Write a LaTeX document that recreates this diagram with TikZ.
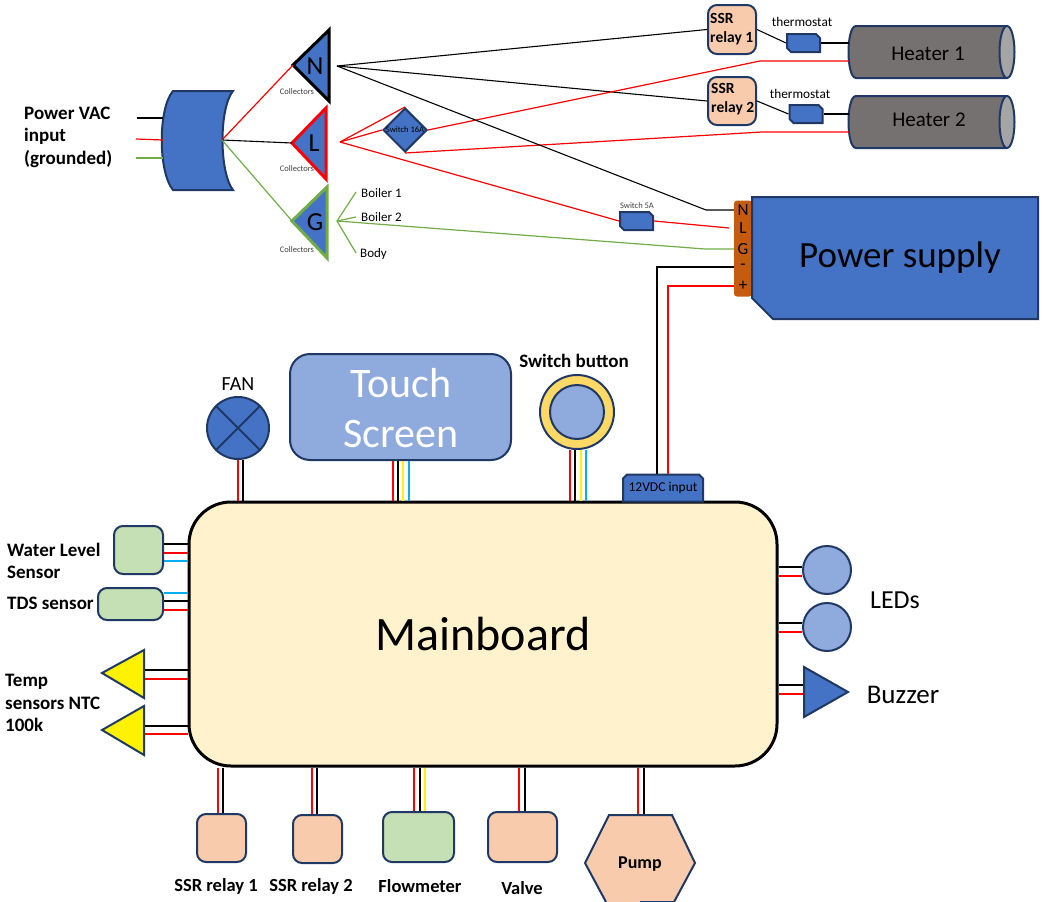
\documentclass[tikz,border=0pt]{standalone}
\usepackage{fontspec}
\setmainfont{Carlito}
\usetikzlibrary{shapes.geometric,shapes.misc}
\definecolor{navy}{HTML}{1F3864}
\definecolor{partblue}{HTML}{4472C4}
\definecolor{lightblue}{HTML}{8FAADC}
\definecolor{peach}{HTML}{F8CBAD}
\definecolor{mint}{HTML}{C5E0B4}
\definecolor{cream}{HTML}{FFF2CC}
\definecolor{gnd}{HTML}{70AD47}
\definecolor{sky}{HTML}{00B0F0}
\definecolor{ringgold}{HTML}{FFD966}
\definecolor{rust}{HTML}{C55A11}
\definecolor{heatgrey}{HTML}{767171}
\definecolor{endgrey}{HTML}{A5A5A5}
\newcommand{\fsz}[1]{\fontsize{#1}{#1}\selectfont}
\tikzset{
  blkw/.style={line width=1.1pt,black},
  redw/.style={line width=1.2pt,red},
  grnw/.style={line width=1.2pt,gnd},
  yelw/.style={line width=1.3pt,yellow},
  cynw/.style={line width=1.3pt,sky},
  part/.style={draw=navy,line width=2pt,inner sep=0pt},
  roundbox/.style={part,rectangle,rounded corners=9pt,minimum width=#1},
  snipbox/.style={part,fill=partblue,chamfered rectangle,chamfered rectangle xsep=2pt,chamfered rectangle ysep=2pt},
  bold/.style={font=\fontsize{19}{22.5}\selectfont\bfseries,align=left,inner sep=0pt},
  tiny/.style={font=\fsz{8.5},inner sep=0pt,text=black!75},
  small/.style={font=\fsz{13.3},inner sep=0pt},
}
\begin{document}
\begin{tikzpicture}[x=1pt,y=-1pt]
\useasboundingbox (0,0) rectangle (1047,902);

% power input
\node[bold,anchor=west] (powerlbl) at (24,137) {Power VAC\\input\\(grounded)};
\filldraw[part,fill=partblue] (173,91)--(233,91) .. controls (219,108) and (219,172) .. (233,190)--(173,190) .. controls (158,172) and (158,108) .. (173,91)--cycle;
\coordinate (plugout) at (222,140);
\coordinate (plugin) at (163,140);
\draw[blkw] (137,118)--(163,118);
\draw[redw] (136,139)--(plugin);
\draw[grnw] (136,158)--(163,158);

% collectors
\filldraw[fill=partblue,draw=black,line width=3pt] (293,65)--(329,30)--(329,101)--cycle;
\filldraw[fill=partblue,draw=red,line width=3pt] (292,143)--(326,108)--(326,179)--cycle;
\filldraw[fill=partblue,draw=gnd,line width=3pt] (292,221)--(327,187)--(327,258)--cycle;
\node[font=\fsz{26},inner sep=0pt] (ntxt) at (315,66) {N};
\node[font=\fsz{26},inner sep=0pt] (ltxt) at (314,143) {L};
\node[font=\fsz{26},inner sep=0pt] (gtxt) at (315,222) {G};
\node[tiny] (coln) at (297,92) {Collectors};
\node[tiny] (coll) at (297,169) {Collectors};
\node[tiny] (colg) at (297,250) {Collectors};
\coordinate (nin) at (293,65);
\coordinate (lin) at (292,143);
\coordinate (gin) at (292,221);
\coordinate (nout) at (337,66);
\coordinate (lout) at (340,142);
\coordinate (gout) at (337,221);
\draw[redw] (plugout)--(nin);
\draw[blkw] (plugout)--(lin);
\draw[grnw] (plugout)--(gin);

% boiler earth points
\node[small,font=\fsz{13},anchor=west] (boil1) at (361,193) {Boiler 1};
\node[small,font=\fsz{13},anchor=west] (boil2) at (361,217) {Boiler 2};
\node[small,font=\fsz{13},anchor=west] (bodytxt) at (360,254) {Body};
\coordinate (boil1w) at (356,192);
\coordinate (boil2w) at (356,217);
\coordinate (bodyw) at (356,253);
\draw[grnw] (gout)--(boil1w);
\draw[grnw] (gout)--(boil2w);
\draw[grnw] (gout)--(bodyw);

% relays, thermostats, heaters
\node[roundbox=48pt,fill=peach,minimum height=49pt] (relay1) at (732,29.5) {};
\node[roundbox=48pt,fill=peach,minimum height=48pt] (relay2) at (732,101) {};
\node[bold,font=\fontsize{15.5}{19}\selectfont\bfseries,anchor=west] (relay1txt) at (710,29) {SSR\\relay 1};
\node[bold,font=\fontsize{15.5}{19}\selectfont\bfseries,anchor=west] (relay2txt) at (711,99) {SSR\\relay 2};
\node[snipbox,chamfered rectangle corners={north east,south west}] (thermo1) at (803.5,43) {\rule{29pt}{0pt}\rule{0pt}{14pt}};
\node[snipbox,chamfered rectangle corners={north east,south west}] (thermo2) at (806,114) {\rule{29pt}{0pt}\rule{0pt}{14pt}};
\node[small] (thermo1txt) at (802,22) {thermostat};
\node[small] (thermo2txt) at (800,94) {thermostat};
\filldraw[part,fill=heatgrey] (1007,26)--(856,26) .. controls (846,26) and (846,78) .. (856,78)--(1007,78);
\filldraw[part,fill=heatgrey] (1007,96)--(856,96) .. controls (846,96) and (846,148) .. (856,148)--(1007,148);
\filldraw[part,fill=endgrey] (1007,52) ellipse (7.5 and 26);
\filldraw[part,fill=endgrey] (1007,122) ellipse (7.5 and 26);
\node[font=\fsz{21},inner sep=0pt] (heater1) at (928,54) {Heater 1};
\node[font=\fsz{21},inner sep=0pt] (heater2) at (929,120) {Heater 2};
\coordinate (heat1in) at (849,52);
\coordinate (heat2in) at (849,122);
\draw[blkw] (nout)--(relay1.west);
\draw[blkw] (nout)--(relay2.west);
\draw[blkw] (relay1.east)--(thermo1.west);
\draw[blkw] (relay2.east)--(thermo2.west);
\draw[blkw] (thermo1.east)--(thermo1.east -| heat1in);
\draw[blkw] (thermo2.east)--(thermo2.east -| heat2in);

% line side switches
\node[part,fill=partblue,diamond,aspect=1,minimum size=44pt] (sw16) at (405,130) {};
\node[tiny,text=black] (sw16txt) at (405,130) {Switch 16A};
\node[snipbox,chamfered rectangle corners={north east,south west}] (sw5) at (636.5,221) {\rule{29pt}{0pt}\rule{0pt}{14pt}};
\node[tiny] (sw5txt) at (637,206) {Switch 5A};
\coordinate (ltrm) at (729,228);
\draw[redw] (lout)--(sw16.north);
\draw[redw] (lout)--(sw16.west);
\draw[redw] (lout)--(sw5.west);
\draw[redw] (sw5.east)--(ltrm);
\draw[redw] (sw16.east)--(760,61)--(760,61 -| heat1in);
\draw[redw] (sw16.south)--(762,132)--(762,132 -| heat2in);

% power supply
\node[draw=none,fill=rust,rounded corners=3pt,inner sep=0pt,minimum width=18pt,minimum height=96pt] (term) at (743,248.5) {};
\filldraw[part,fill=partblue] (752,197)--(1038,197)--(1038,319)--(773,319)--(752,298)--cycle;
\node[font=\fsz{37},inner sep=0pt] (pstxt) at (900,258) {Power supply};
\node[font=\fsz{17},inner sep=0pt] (tn) at (743,210) {N};
\node[font=\fsz{17},inner sep=0pt] (tl) at (743,228) {L};
\node[font=\fsz{17},inner sep=0pt] (tg) at (743,249) {G};
\node[font=\fsz{17},inner sep=0pt] (tm) at (743,267) {-};
\node[font=\fsz{17},inner sep=0pt] (tp) at (743,286) {+};
\draw[blkw] (nout)--(706,210)--(tn -| term.west);
\draw[grnw] (gout)--(705,249)--(tg -| term.west);

% mainboard
\node[draw=black,line width=3pt,fill=cream,rounded corners=42pt,inner sep=0pt,minimum width=588pt,minimum height=264pt,font=\fsz{48}] (main) at (483,634) {Mainboard};

% top row
\node[part,fill=partblue,circle,minimum size=62pt] (fan) at (238,428) {};
\draw[navy,line width=2pt] (fan.north west)--(fan.south east);
\draw[navy,line width=2pt] (fan.north east)--(fan.south west);
\node[font=\fsz{20},inner sep=0pt] (fantxt) at (238,384) {FAN};
\node[part,fill=lightblue,rectangle,rounded corners=20pt,minimum width=221pt,minimum height=106pt] (touch) at (400.5,407) {};
\node[text=white,font=\fontsize{42}{50}\selectfont,align=center,inner sep=0pt] (touchtxt) at (401,408) {Touch\\Screen};
\node[part,fill=ringgold,circle,minimum size=74pt] (btnring) at (577,412) {};
\node[part,fill=lightblue,circle,minimum size=54pt] (btn) at (577,412) {};
\node[bold] (btntxt) at (574,361) {Switch button};
\node[snipbox,chamfered rectangle corners={north west,north east},minimum width=80pt,minimum height=27pt,font=\fsz{13.5}] (vin) at (663,488) {12VDC input};
\foreach \wx/\wc in {238/redw,243/blkw}
  \draw[\wc] (\wx,0 |- fan.south)--(\wx,0 |- main.north);
\foreach \wx/\wc in {393/redw,398/blkw,403/yelw,409/cynw}
  \draw[\wc] (\wx,0 |- touch.south)--(\wx,0 |- main.north);
\foreach \wx/\wc in {570/redw,575/blkw,581/yelw,586/cynw}
  \draw[\wc] (\wx,0 |- btnring.south)--(\wx,0 |- main.north);
\draw[blkw] (tm -| term.west)--(657,0 |- tm)--(657,0 |- vin.north);
\draw[redw] (tp -| term.west)--(668,0 |- tp)--(668,0 |- vin.north);

% left sensors
\node[roundbox=49pt,fill=mint,minimum height=48pt] (water) at (138.5,550) {};
\node[roundbox=65pt,fill=mint,minimum height=32pt] (tds) at (130.5,604) {};
\node[bold,anchor=west] (watertxt) at (7,561) {Water Level\\Sensor};
\node[bold,anchor=west] (tdstxt) at (7,603) {TDS sensor};
\foreach \wy/\wc in {544/blkw,553/redw,561/cynw}
  \draw[\wc] (water.east |- 0,\wy)--(main.west |- 0,\wy);
\foreach \wy/\wc in {593/cynw,601/blkw,610/redw}
  \draw[\wc] (tds.east |- 0,\wy)--(main.west |- 0,\wy);
\filldraw[part,fill=yellow] (102,673)--(144,650)--(144,698)--cycle;
\filldraw[part,fill=yellow] (102,730)--(144,706)--(144,755)--cycle;
\coordinate (tempa) at (145,674);
\coordinate (tempb) at (145,730);
\node[bold,anchor=west] (temptxt) at (5,703) {Temp\\sensors NTC\\100k};
\foreach \wy/\wc in {670/blkw,679/redw}
  \draw[\wc] (tempa |- 0,\wy)--(main.west |- 0,\wy);
\foreach \wy/\wc in {726/blkw,734/redw}
  \draw[\wc] (tempb |- 0,\wy)--(main.west |- 0,\wy);

% right outputs
\node[part,fill=lightblue,circle,minimum size=48pt] (led1) at (827,570) {};
\node[part,fill=lightblue,circle,minimum size=48pt] (led2) at (827,627) {};
\node[font=\fsz{26},inner sep=0pt] (ledtxt) at (895,600) {LEDs};
\filldraw[part,fill=partblue] (804,667)--(848,692)--(804,717)--cycle;
\coordinate (buzzin) at (803,692);
\node[font=\fsz{27},inner sep=0pt] (buzztxt) at (903,695) {Buzzer};
\foreach \wy/\wc in {567/blkw,576/redw}
  \draw[\wc] (main.east |- 0,\wy)--(led1.west |- 0,\wy);
\foreach \wy/\wc in {623/blkw,632/redw}
  \draw[\wc] (main.east |- 0,\wy)--(led2.west |- 0,\wy);
\foreach \wy/\wc in {685/blkw,694/redw}
  \draw[\wc] (main.east |- 0,\wy)--(buzzin |- 0,\wy);

% bottom row
\node[roundbox=49pt,fill=peach,minimum height=48pt] (ssra) at (221.5,838) {};
\node[roundbox=49pt,fill=peach,minimum height=48pt] (ssrb) at (317.5,839) {};
\node[roundbox=71pt,fill=mint,minimum height=50pt] (flow) at (418.5,837) {};
\node[roundbox=69pt,fill=peach,minimum height=50pt] (valve) at (522.5,837) {};
\filldraw[part,fill=peach] (640,902)--(674,902)--(695,863)--(672,815)--(609,815)--(585,863)--(606,902);
\coordinate (pumpin) at (640,814);
\node[bold,font=\fsz{18}\bfseries] (pumptxt) at (640,864) {Pump};
\node[bold,font=\fsz{18.5}\bfseries] (ssratxt) at (216,886) {SSR relay 1};
\node[bold,font=\fsz{18.5}\bfseries] (ssrbtxt) at (311,886) {SSR relay 2};
\node[bold,font=\fsz{18.5}\bfseries] (flowtxt) at (420,886) {Flowmeter};
\node[bold,font=\fsz{18.5}\bfseries] (valvetxt) at (522,888) {Valve};
\foreach \wx/\wc in {218/redw,223/blkw}
  \draw[\wc] (main.south -| \wx,0)--(ssra.north -| \wx,0);
\foreach \wx/\wc in {312/redw,317/blkw}
  \draw[\wc] (main.south -| \wx,0)--(ssrb.north -| \wx,0);
\foreach \wx/\wc in {414/redw,420/blkw,425/yelw}
  \draw[\wc] (main.south -| \wx,0)--(flow.north -| \wx,0);
\foreach \wx/\wc in {519/redw,525/blkw}
  \draw[\wc] (main.south -| \wx,0)--(valve.north -| \wx,0);
\foreach \wx/\wc in {638/redw,644/blkw}
  \draw[\wc] (main.south -| \wx,0)--(pumpin -| \wx,0);
\end{tikzpicture}
\end{document}
